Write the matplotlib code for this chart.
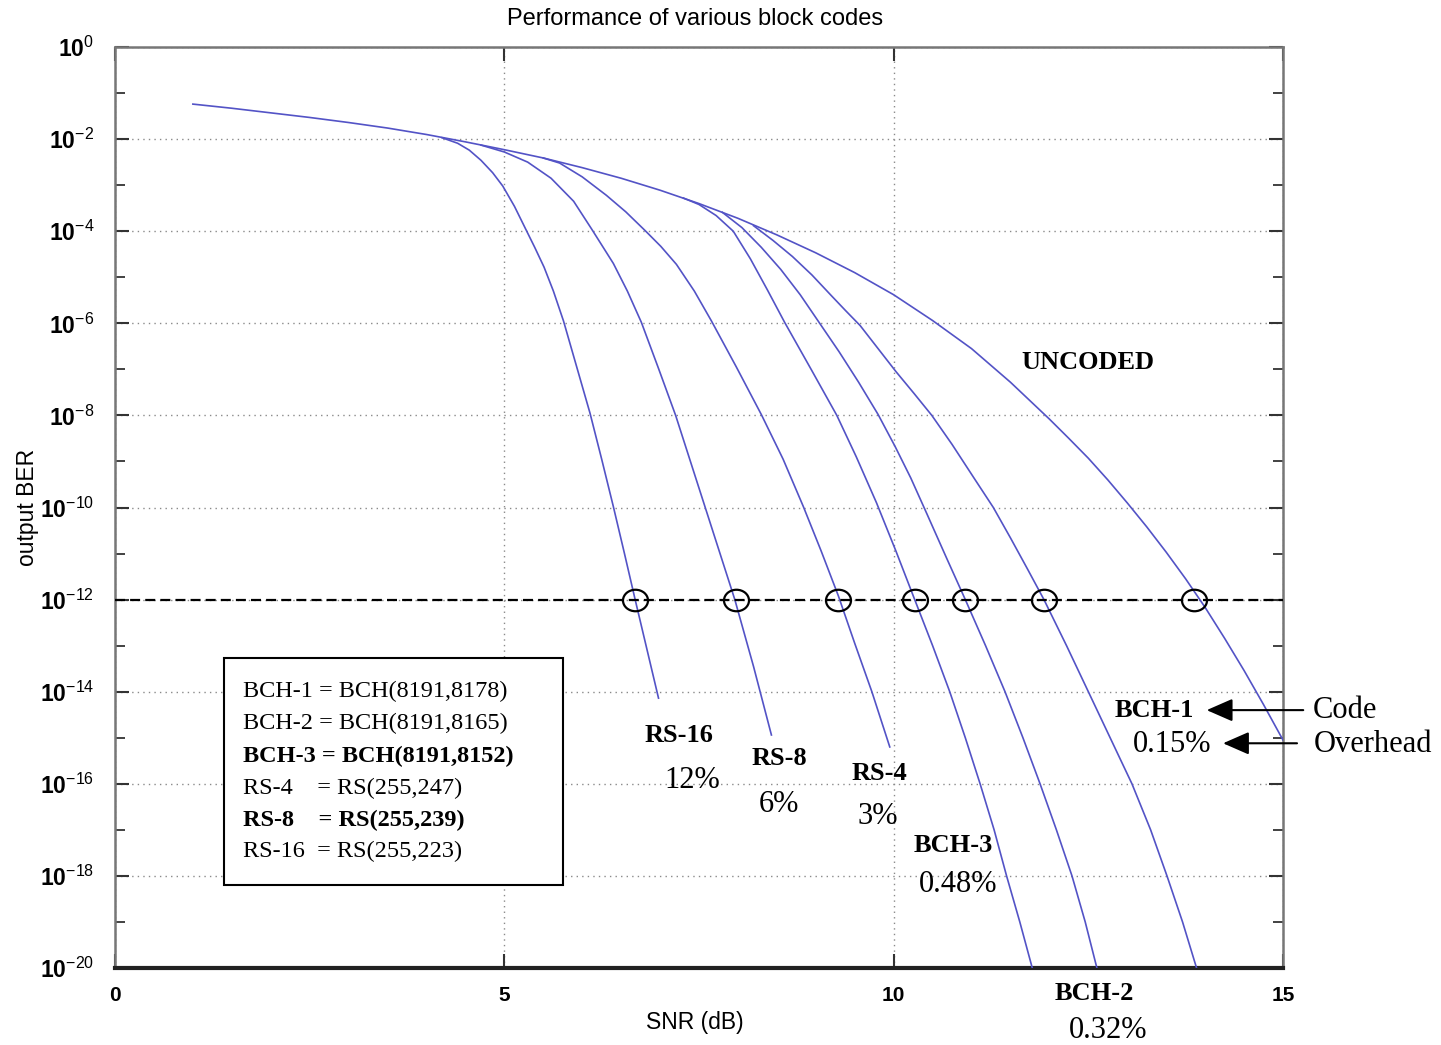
import numpy as np
import matplotlib
matplotlib.use("Agg")
import matplotlib.pyplot as plt
from matplotlib.patches import Rectangle
from matplotlib.path import Path
from matplotlib.ticker import FixedLocator, NullFormatter

# ---------------- data (log10 of BER) ----------------
uncoded_snr = [1.0, 1.5, 2.0, 2.5, 3.0, 3.5, 4.0, 4.5, 5.0, 5.5, 6.0, 6.5, 7.0, 7.5,
               8.0, 8.5, 9.0, 9.5, 10.0, 10.5, 11.0, 11.5, 12.0, 12.25, 12.5, 12.75,
               13.0, 13.25, 13.5, 13.75, 14.0, 14.25, 14.5, 14.75, 15.0]
uncoded_log_ber = [-1.24, -1.33, -1.43, -1.53, -1.64, -1.76, -1.90, -2.06, -2.23, -2.41,
                   -2.62, -2.85, -3.11, -3.40, -3.72, -4.08, -4.47, -4.90, -5.38, -5.94,
                   -6.55, -7.28, -8.08, -8.50, -8.93, -9.40, -9.90, -10.42, -10.97,
                   -11.55, -12.17, -12.84, -13.54, -14.28, -15.05]

rs16_snr = [4.20, 4.40, 4.55, 4.70, 4.85, 4.98, 5.13, 5.27, 5.39, 5.51, 5.63, 5.76,
            5.93, 6.10, 6.25, 6.40, 6.54, 6.68, 6.83, 6.98]
rs16_log_ber = [-1.97, -2.09, -2.24, -2.46, -2.73, -3.02, -3.46, -3.94, -4.35, -4.78,
                -5.30, -5.95, -6.95, -7.95, -8.95, -9.98, -10.98, -12.0, -13.07, -14.14]

rs8_snr = [4.70, 5.00, 5.30, 5.60, 5.89, 6.12, 6.40, 6.58, 6.76, 6.98, 7.20, 7.39,
           7.58, 7.77, 7.96, 8.20, 8.43]
rs8_log_ber = [-2.13, -2.28, -2.50, -2.85, -3.35, -3.95, -4.70, -5.30, -5.98, -6.98,
               -8.0, -9.0, -10.0, -11.0, -12.0, -13.45, -14.94]

rs4_snr = [5.50, 5.71, 6.00, 6.31, 6.56, 6.81, 7.01, 7.21, 7.44, 7.66, 7.98, 8.30,
           8.58, 8.84, 9.07, 9.29, 9.50, 9.72, 9.95]
rs4_log_ber = [-2.41, -2.52, -2.82, -3.22, -3.58, -3.99, -4.33, -4.72, -5.30, -5.95,
               -6.95, -7.98, -8.95, -9.98, -10.95, -11.92, -12.95, -14.0, -15.2]

bch3_snr = [7.30, 7.50, 7.72, 7.94, 8.16, 8.38, 8.60, 8.94, 9.27, 9.52, 9.78, 10.03,
            10.27, 10.50, 10.72, 10.92, 11.11, 11.29, 11.45, 11.62, 11.78]
bch3_log_ber = [-3.28, -3.42, -3.66, -4.0, -4.6, -5.28, -5.98, -7.0, -8.0, -8.9, -9.9,
                -10.95, -12.0, -13.0, -14.0, -15.0, -16.0, -17.0, -18.0, -19.0, -20.0]

bch2_snr = [7.80, 8.05, 8.30, 8.55, 8.80, 9.05, 9.30, 9.55, 9.80, 10.02, 10.22, 10.43,
            10.68, 10.92, 11.18, 11.43, 11.66, 11.88, 12.09, 12.29, 12.46, 12.61]
bch2_log_ber = [-3.59, -3.92, -4.35, -4.83, -5.38, -6.0, -6.62, -7.28, -7.98, -8.68,
                -9.36, -10.15, -11.1, -12.0, -13.0, -14.0, -15.0, -16.0, -17.0, -18.0,
                -19.0, -20.0]

bch1_snr = [8.20, 8.45, 8.70, 8.95, 9.20, 9.38, 9.57, 9.80, 10.03, 10.26, 10.49, 10.75,
            11.02, 11.28, 11.50, 11.72, 11.93, 12.22, 12.50, 12.78, 13.06, 13.30, 13.51,
            13.71, 13.89]
bch1_log_ber = [-3.88, -4.20, -4.55, -4.95, -5.40, -5.72, -6.05, -6.55, -7.05, -7.52,
                -8.0, -8.63, -9.33, -10.0, -10.66, -11.34, -12.0, -13.0, -14.0, -15.0,
                -16.0, -17.0, -18.0, -19.0, -20.0]

target_log_ber = -12
crossing_snr = [6.68, 7.97, 9.28, 10.27, 10.92, 11.93, 13.86]

code_names = ["RS-16", "RS-8", "RS-4", "BCH-3", "BCH-2", "BCH-1"]
overheads = ["12%", "6%", "3%", "0.48%", "0.32%", "0.15%"]

legend_lines = ["BCH-1 = BCH(8191,8178)", "BCH-2 = BCH(8191,8165)",
                "BCH-3 = BCH(8191,8152)", "RS-4    = RS(255,247)",
                "RS-8    = RS(255,239)", "RS-16  = RS(255,223)"]
legend_bold = [False, False, True, False, True, False]

xticks = [0, 5, 10, 15]
xtick_labels = ["0", "5", "10", "15"]
ytick_exponents = [0, -2, -4, -6, -8, -10, -12, -14, -16, -18, -20]
yminor_exponents = [-1, -3, -5, -7, -9, -11, -13, -15, -17, -19]

# ---------------- styling ----------------
plt.rcParams["font.family"] = ["Liberation Sans", "DejaVu Sans"]
plt.rcParams["mathtext.fontset"] = "custom"
plt.rcParams["mathtext.rm"] = "Liberation Sans"
plt.rcParams["mathtext.bf"] = "Liberation Sans:bold"
plt.rcParams["mathtext.it"] = "Liberation Sans:italic"

W, H = 1441, 1045
fig = plt.figure(figsize=(W / 100, H / 100), dpi=100)
ax_l, ax_r, ax_t, ax_b = 115, 1283, 47, 968
ax = fig.add_axes([ax_l / W, 1 - ax_b / H, (ax_r - ax_l) / W, (ax_b - ax_t) / H])


def fx(px):
    return (px - ax_l) / (ax_r - ax_l)


def fy(py):
    return (ax_b - py) / (ax_b - ax_t)


line_color = "#5353c6"
curves = [(uncoded_snr, uncoded_log_ber), (rs16_snr, rs16_log_ber), (rs8_snr, rs8_log_ber),
          (rs4_snr, rs4_log_ber), (bch3_snr, bch3_log_ber), (bch2_snr, bch2_log_ber),
          (bch1_snr, bch1_log_ber)]
for s, lb in curves:
    ax.plot(s, 10.0 ** np.array(lb), color=line_color, lw=1.2, zorder=3)

ax.axhline(10.0 ** target_log_ber, color="black", lw=1.6, ls=(0, (4.5, 2.3)), zorder=4)

# slightly flattened circle marker (as in the reference)
uc = Path.unit_circle()
ellipse_marker = Path(uc.vertices * np.array([1.0, 0.86]), uc.codes)
ax.plot(crossing_snr, [10.0 ** target_log_ber] * len(crossing_snr), linestyle="none",
        marker=ellipse_marker, mfc="none", mec="black", ms=18, mew=1.6, zorder=5)

ax.set_yscale("log")
ax.set_xlim(0, 15)
ax.set_ylim(1e-20, 1)
ax.set_xticks(xticks)
ax.set_xticklabels(xtick_labels, fontweight="bold", fontsize=15)
ax.set_yticks([10.0 ** e for e in ytick_exponents])
ax.set_yticklabels([r"$\mathbf{10}^{%d}$" % e for e in ytick_exponents], fontsize=16.5)
ax.yaxis.set_minor_locator(FixedLocator([10.0 ** e for e in yminor_exponents]))
ax.yaxis.set_minor_formatter(NullFormatter())
ax.xaxis.set_minor_locator(FixedLocator([]))
ax.tick_params(which="both", direction="in", right=True, top=True, color="#333333")
ax.tick_params(which="major", length=10, width=1.5)
ax.tick_params(which="minor", length=7, width=1.3)
ax.tick_params(axis="y", which="major", pad=15)
ax.tick_params(axis="x", which="major", pad=13)
ax.grid(True, which="major", ls=(0, (1, 3)), color="#8a8a8a", lw=1.0)

for side in ["left", "top", "right"]:
    ax.spines[side].set_color("#777777")
    ax.spines[side].set_linewidth(1.8)
ax.spines["bottom"].set_color("#222222")
ax.spines["bottom"].set_linewidth(3)

ax.set_xlabel("SNR (dB)", fontsize=16.5)
ax.xaxis.set_label_coords(fx(695), fy(1011))
ax.set_ylabel("output BER", fontsize=16.5)
ax.yaxis.set_label_coords(fx(39), 0.5)
fig.text(695 / W, 1 - 19 / H, "Performance of various block codes", ha="center",
         va="center", fontsize=17)

# ---------------- annotations ----------------
serif = ["Liberation Serif", "DejaVu Serif"]
name_pos = [(7.24, -14.96), (8.53, -15.44), (9.82, -15.77), (10.76, -17.33),
            (12.58, -20.56), (13.35, -14.40)]
ovh_pos = [(7.41, -15.92), (8.53, -16.46), (9.79, -16.72), (10.83, -18.18),
           (12.75, -21.35), (13.57, -15.14)]
for name, (x, y) in zip(code_names, name_pos):
    ax.text(x, 10.0 ** y, name, ha="center", va="center", fontsize=19,
            fontweight="bold", family=serif, clip_on=False)
for ov, (x, y) in zip(overheads, ovh_pos):
    ax.text(x, 10.0 ** y, ov, ha="center", va="center", fontsize=22,
            family=serif, clip_on=False)
ax.text(12.50, 10.0 ** -6.86, "UNCODED", ha="center", va="center", fontsize=19,
        fontweight="bold", family=serif)
ax.text(15.80, 10.0 ** -14.40, "Code", ha="center", va="center", fontsize=22,
        family=serif, clip_on=False)
ax.text(16.15, 10.0 ** -15.14, "Overhead", ha="center", va="center", fontsize=22,
        family=serif, clip_on=False)
arrow_style = "-|>,head_length=0.8,head_width=0.35"
ax.annotate("", xy=(14.02, 10.0 ** -14.40), xytext=(15.26, 10.0 ** -14.40),
            arrowprops=dict(arrowstyle=arrow_style, color="black", lw=1.5,
                            mutation_scale=20, shrinkA=0, shrinkB=0),
            annotation_clip=False)
ax.annotate("", xy=(14.23, 10.0 ** -15.12), xytext=(15.18, 10.0 ** -15.12),
            arrowprops=dict(arrowstyle=arrow_style, color="black", lw=1.5,
                            mutation_scale=20, shrinkA=0, shrinkB=0),
            annotation_clip=False)

# legend box
ax.add_patch(Rectangle((fx(224), fy(885)), fx(563) - fx(224), fy(658) - fy(885),
                       transform=ax.transAxes, facecolor="white", edgecolor="black",
                       lw=1.5, zorder=6))
line_py = [691.7, 723.3, 756.0, 788.3, 820.0, 851.7]
for txt, bold, py in zip(legend_lines, legend_bold, line_py):
    ax.text(fx(242.7), fy(py), txt, transform=ax.transAxes, ha="left", va="center",
            fontsize=17.5, fontweight="bold" if bold else "normal", family=serif,
            zorder=7)

fig.savefig("out.png", dpi=100, facecolor="white")
